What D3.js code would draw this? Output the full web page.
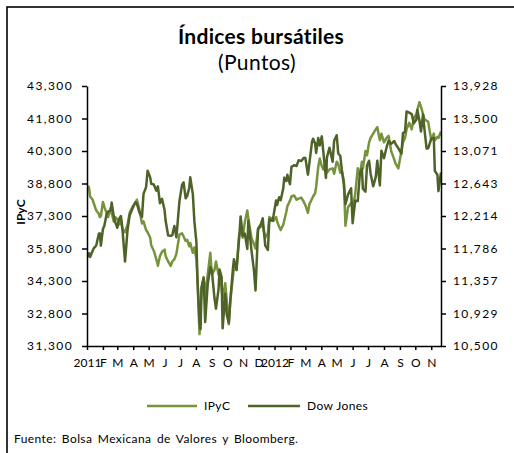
<!DOCTYPE html>
<html><head><meta charset="utf-8">
<script src="https://cdn.jsdelivr.net/npm/d3@7"></script>
<style>
html,body{margin:0;padding:0;background:#fff;}
svg text{font-family:Lato,"Open Sans",sans-serif;fill:#000;}
</style></head>
<body>
<svg id="c" width="514" height="453"></svg>
<script>
// ---------- DATA ----------
const dates = [
"2011-01-03","2011-01-05","2011-01-07","2011-01-12","2011-01-14","2011-01-19","2011-01-24","2011-01-26","2011-01-28",
"2011-02-01","2011-02-04","2011-02-08","2011-02-11","2011-02-16","2011-02-18","2011-02-22","2011-02-25",
"2011-03-01","2011-03-04","2011-03-08","2011-03-11","2011-03-16","2011-03-21","2011-03-25","2011-03-31",
"2011-04-05","2011-04-08","2011-04-13","2011-04-18","2011-04-21","2011-04-26","2011-04-29",
"2011-05-04","2011-05-06","2011-05-11","2011-05-16","2011-05-19","2011-05-23","2011-05-27",
"2011-06-01","2011-06-03","2011-06-08","2011-06-13","2011-06-16","2011-06-20","2011-06-24","2011-06-30",
"2011-07-05","2011-07-08","2011-07-12","2011-07-15","2011-07-19","2011-07-21","2011-07-26","2011-07-29",
"2011-08-02","2011-08-04","2011-08-08","2011-08-10","2011-08-12","2011-08-16","2011-08-19","2011-08-24","2011-08-29",
"2011-09-01","2011-09-06","2011-09-09","2011-09-14","2011-09-16","2011-09-20","2011-09-22","2011-09-27","2011-09-30",
"2011-10-04","2011-10-07","2011-10-12","2011-10-14","2011-10-19","2011-10-24","2011-10-27","2011-10-31",
"2011-11-04","2011-11-09","2011-11-11","2011-11-17","2011-11-22","2011-11-25","2011-11-30",
"2011-12-05","2011-12-09","2011-12-14","2011-12-19","2011-12-22","2011-12-28","2011-12-30",
"2012-01-04","2012-01-06","2012-01-10","2012-01-13","2012-01-18","2012-01-20","2012-01-24","2012-01-26","2012-01-31",
"2012-02-03","2012-02-08","2012-02-13","2012-02-17","2012-02-22","2012-02-27",
"2012-03-01","2012-03-06","2012-03-09","2012-03-14","2012-03-16","2012-03-20","2012-03-22","2012-03-26","2012-03-29",
"2012-04-02","2012-04-05","2012-04-10","2012-04-12","2012-04-17","2012-04-23","2012-04-26",
"2012-05-01","2012-05-04","2012-05-08","2012-05-11","2012-05-15","2012-05-18","2012-05-23","2012-05-29",
"2012-06-01","2012-06-06","2012-06-11","2012-06-15","2012-06-19","2012-06-21","2012-06-26","2012-06-29",
"2012-07-03","2012-07-06","2012-07-11","2012-07-16","2012-07-19","2012-07-24","2012-07-27",
"2012-08-01","2012-08-06","2012-08-10","2012-08-15","2012-08-21","2012-08-24","2012-08-29",
"2012-09-04","2012-09-07","2012-09-11","2012-09-14","2012-09-19","2012-09-24","2012-09-28",
"2012-10-03","2012-10-05","2012-10-09","2012-10-12","2012-10-16","2012-10-19","2012-10-23","2012-10-26",
"2012-11-01","2012-11-06","2012-11-08","2012-11-13","2012-11-15","2012-11-20"
];
const ipyc = [
38700,38600,38200,38050,37900,37550,37400,37250,37300,
37950,37700,37450,37250,37650,37450,37050,37250,
37150,36900,37050,36700,36550,36900,37450,37750,
37900,38050,37600,36950,37050,36650,36550,
36300,35950,35700,35300,35000,35450,35650,
35750,35450,35200,35000,35200,35300,35550,36450,
36500,36350,36150,36200,35900,36050,35600,35850,
35300,34400,31850,33000,34000,34400,33700,34600,35600,
34600,34800,35200,34600,34500,34000,33500,34200,33400,
32300,33400,34500,34900,34800,36400,36600,36300,
37000,37550,37200,36300,36000,35800,36700,
36800,36850,36300,36500,37250,37150,37077,
37250,37050,36800,36650,36900,37100,37500,37750,38000,
38200,38250,38050,38100,38150,37950,
37800,37450,37850,38100,38200,38350,38650,39550,39950,
39600,39450,39850,39300,39450,39500,39250,
39800,39700,39300,39350,38900,36850,37700,37900,
37650,38300,39500,39200,39800,39500,40300,40100,
40700,40900,41100,41300,41400,40800,41100,
40700,40900,41000,40300,39900,39700,39500,
40300,40700,40900,41300,41600,41300,41800,
42000,42200,42550,42350,42000,41750,41700,41650,
40800,41100,40800,40950,40900,41200
];
const dowJones = [
11670,11722,11674,11755,11787,11825,11980,11985,11823,
12040,12092,12233,12273,12288,12391,12212,12130,
12058,12169,12214,12044,11613,12036,12221,12320,
12393,12380,12263,12202,12505,12595,12811,
12723,12638,12630,12548,12605,12381,12441,
12290,12151,11956,11953,11962,12081,11934,12414,
12626,12657,12447,12480,12587,12724,12502,12143,
11866,11384,10810,10720,11270,11406,10818,11320,11539,
11494,11139,10992,11247,11509,11408,10733,11190,10913,
10809,11103,11518,11644,11505,11913,12208,11955,
11983,11780,12153,11770,11494,11231,12046,
12098,12184,11823,11766,12170,12151,12218,
12418,12360,12462,12422,12579,12720,12675,12757,12633,
12862,12884,12874,12950,12938,12982,
12980,12759,12922,13194,13233,13170,13046,13241,13145,
13264,13060,12716,12987,13115,12928,13205,
13279,13038,13008,12821,12632,12369,12496,12580,
12119,12414,12411,12767,12837,12574,12535,12880,
12943,12772,12605,12727,12943,12617,13075,
12976,13118,13207,13165,13203,13158,13107,
13035,13306,13323,13593,13577,13558,13437,
13482,13610,13474,13328,13551,13343,13102,13107,
13232,13245,12811,12757,12542,12788
];
const leftTicks = [31300,32800,34300,35800,37300,38800,40300,41800,43300];
const rightTickValues = [10500,10928.5,11357,11785.5,12214,12642.5,13071,13499.5,13928];
const rightTickLabels = ["10,500","10,929","11,357","11,786","12,214","12,643","13,071","13,500","13,928"];
const monthLabels = ["2011","F","M","A","M","J","J","A","S","O","N","D","2012","F","M","A","M","J","J","A","S","O","N"];
const seriesNames = ["IPyC","Dow Jones"];
const seriesColors = ["#77933C","#4F6228"];

// ---------- LAYOUT ----------
const svg = d3.select("#c");
const L = 87, R = 441, T = 86, B = 346;
const parse = d3.timeParse("%Y-%m-%d");
const dts = dates.map(parse);

const x = d3.scaleTime().domain([new Date(2011,0,1), new Date(2012,10,20)]).range([L, R]);
const yL = d3.scaleLinear().domain([31300, 43300]).range([B, T]);
const yR = d3.scaleLinear().domain([10500, 13928]).range([B, T]);

// border
svg.append("rect").attr("x",7).attr("y",7).attr("width",600).attr("height",600)
  .attr("fill","none").attr("stroke","#000").attr("stroke-width",1.6);

// titles
svg.append("text").attr("x",261).attr("y",44).attr("text-anchor","middle")
  .style("font-size","21px").style("font-weight","bold").style("letter-spacing","0.3px").text("Índices bursátiles");
svg.append("text").attr("x",257).attr("y",70).attr("text-anchor","middle")
  .style("font-size","21px").style("letter-spacing","0.4px").text("(Puntos)");

// lines
const lineL = d3.line().x((d,i)=>x(dts[i])).y(d=>yL(d));
const lineR = d3.line().x((d,i)=>x(dts[i])).y(d=>yR(d));
svg.append("path").datum(ipyc).attr("d",lineL).attr("fill","none")
  .attr("stroke",seriesColors[0]).attr("stroke-width",2.5).attr("stroke-linejoin","round");
svg.append("path").datum(dowJones).attr("d",lineR).attr("fill","none")
  .attr("stroke",seriesColors[1]).attr("stroke-width",2.5).attr("stroke-linejoin","round");

// axes
function styleAxis(g, ls){
  g.selectAll("path,line").attr("stroke","#000").attr("stroke-width",1.5);
  g.selectAll("text").style("font-size","12px").style("letter-spacing",ls)
    .style("font-family","Lato, sans-serif").attr("fill","#000");
}
const gl = svg.append("g").attr("transform",`translate(${L},0)`)
  .call(d3.axisLeft(yL).tickValues(leftTicks).tickSize(5).tickSizeOuter(0).tickPadding(9)
    .tickFormat(d3.format(",")));
styleAxis(gl, "1.4px");
const gr = svg.append("g").attr("transform",`translate(${R},0)`)
  .call(d3.axisRight(yR).tickValues(rightTickValues).tickSize(5).tickSizeOuter(0).tickPadding(7)
    .tickFormat((d,i)=>rightTickLabels[i]));
styleAxis(gr, "1.4px");
const months = d3.timeMonth.range(new Date(2011,0,1), new Date(2012,10,2));
const gx = svg.append("g").attr("transform",`translate(0,${B})`)
  .call(d3.axisBottom(x).tickValues(months).tickSize(4).tickSizeOuter(0).tickPadding(8)
    .tickFormat((d,i)=>monthLabels[i]));
styleAxis(gx, "0px");

// y title
svg.append("text").attr("transform","translate(25,212) rotate(-90)").attr("text-anchor","middle")
  .style("font-size","12px").style("font-weight","bold").text("IPyC");

// legend
const lg = [[147,197,204],[248,300,307]];
lg.forEach((p,i)=>{
  svg.append("line").attr("x1",p[0]).attr("x2",p[1]).attr("y1",406).attr("y2",406)
    .attr("stroke",seriesColors[i]).attr("stroke-width",2.5);
  svg.append("text").attr("x",p[2]).attr("y",410).style("font-size","12px")
    .style("letter-spacing","0.4px").text(seriesNames[i]);
});

// footer
svg.append("text").attr("x",14).attr("y",443).style("font-size","12px")
  .style("letter-spacing","0.4px").style("word-spacing","2px")
  .text("Fuente: Bolsa Mexicana de Valores y  Bloomberg.");
</script>
</body></html>
